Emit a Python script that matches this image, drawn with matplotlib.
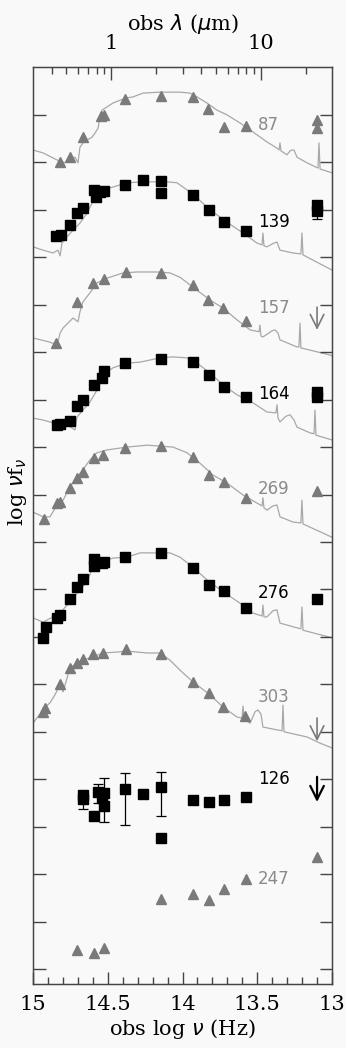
import matplotlib
matplotlib.use("Agg")
import matplotlib.pyplot as plt
import numpy as np

# ---- model SED curves: obs log nu (Hz) vs stacked log nu f_nu ----
sed87_x = [15.000, 14.933, 14.839, 14.786, 14.753, 14.719, 14.699, 14.686, 14.666, 14.639,
           14.605, 14.585, 14.565, 14.552, 14.538, 14.505, 14.465, 14.418, 14.371, 14.331,
           14.264, 14.150, 14.017, 13.950, 13.903, 13.836, 13.769, 13.702, 13.615, 13.528,
           13.435, 13.368, 13.354, 13.348, 13.341, 13.301, 13.281, 13.268, 13.254, 13.234,
           13.167, 13.094, 13.087, 13.080, 13.000]
sed87_y = [17.26, 17.20, 17.05, 16.99, 17.05, 17.11, 16.99, 17.32, 17.41, 17.47,
           17.53, 17.62, 17.72, 17.96, 18.10, 18.17, 18.25, 18.31, 18.36, 18.38,
           18.46, 18.48, 18.48, 18.46, 18.38, 18.25, 18.10, 18.00, 17.83, 17.64,
           17.43, 17.30, 17.26, 17.41, 17.24, 17.16, 17.24, 17.26, 17.26, 17.11,
           16.99, 16.88, 17.41, 16.86, 16.78]

sed139_x = [15.000, 14.933, 14.866, 14.833, 14.819, 14.806, 14.773, 14.732, 14.686, 14.639,
            14.605, 14.572, 14.532, 14.465, 14.371, 14.264, 14.104, 14.037, 13.970, 13.903,
            13.816, 13.702, 13.595, 13.502, 13.468, 13.462, 13.455, 13.435, 13.388, 13.368,
            13.348, 13.261, 13.208, 13.201, 13.194, 13.000]
sed139_y = [15.22, 15.15, 15.09, 15.15, 15.03, 15.30, 15.43, 15.57, 15.72, 15.93,
            16.14, 16.35, 16.42, 16.48, 16.57, 16.59, 16.59, 16.57, 16.42, 16.25,
            16.00, 15.74, 15.51, 15.30, 15.26, 15.51, 15.24, 15.22, 15.30, 15.32,
            15.15, 15.09, 15.07, 15.51, 15.05, 14.73]

sed157_x = [15.000, 14.886, 14.839, 14.819, 14.799, 14.732, 14.699, 14.686, 14.666, 14.619,
            14.572, 14.505, 14.398, 14.304, 14.171, 14.084, 14.017, 13.930, 13.816, 13.729,
            13.635, 13.548, 13.488, 13.482, 13.475, 13.462, 13.401, 13.381, 13.361, 13.348,
            13.234, 13.221, 13.214, 13.208, 13.013, 13.000]
sed157_y = [13.30, 13.21, 13.15, 13.40, 13.51, 13.72, 13.64, 13.85, 14.06, 14.25,
            14.46, 14.56, 14.67, 14.69, 14.69, 14.67, 14.58, 14.37, 14.10, 13.93,
            13.68, 13.47, 13.43, 13.57, 13.34, 13.32, 13.45, 13.47, 13.40, 13.26,
            13.11, 13.11, 13.61, 13.09, 12.94, 12.92]

sed164_x = [15.000, 14.933, 14.866, 14.773, 14.719, 14.706, 14.666, 14.619, 14.572, 14.552,
            14.505, 14.465, 14.371, 14.284, 14.150, 14.064, 13.970, 13.903, 13.816, 13.729,
            13.635, 13.528, 13.435, 13.375, 13.368, 13.361, 13.348, 13.308, 13.281, 13.254,
            13.234, 13.147, 13.120, 13.114, 13.107, 13.000]
sed164_y = [11.61, 11.57, 11.51, 11.47, 11.36, 11.63, 11.78, 11.95, 12.20, 12.41,
            12.58, 12.67, 12.77, 12.79, 12.88, 12.90, 12.88, 12.77, 12.56, 12.31,
            12.10, 11.93, 11.74, 11.72, 11.89, 11.61, 11.53, 11.65, 11.68, 11.57,
            11.42, 11.30, 11.28, 11.78, 11.25, 11.15]

sed269_x = [15.000, 14.933, 14.886, 14.839, 14.799, 14.753, 14.706, 14.666, 14.619, 14.572,
            14.505, 14.371, 14.237, 14.064, 13.970, 13.883, 13.796, 13.702, 13.595, 13.502,
            13.468, 13.462, 13.455, 13.435, 13.395, 13.368, 13.348, 13.261, 13.208, 13.201,
            13.194, 13.000]
sed269_y = [9.63, 9.53, 9.53, 9.78, 9.88, 10.16, 10.37, 10.52, 10.73, 10.88,
            10.94, 11.00, 11.04, 11.00, 10.88, 10.66, 10.41, 10.24, 9.99, 9.82,
            9.76, 9.93, 9.72, 9.67, 9.76, 9.78, 9.53, 9.42, 9.40, 9.88,
            9.38, 9.10]

sed276_x = [15.000, 14.933, 14.819, 14.753, 14.686, 14.639, 14.599, 14.552, 14.465, 14.371,
            14.284, 14.150, 14.084, 14.017, 13.930, 13.836, 13.729, 13.615, 13.528, 13.468,
            13.462, 13.455, 13.435, 13.395, 13.368, 13.348, 13.234, 13.208, 13.201, 13.194,
            13.000]
sed276_y = [7.40, 7.31, 7.50, 7.74, 7.99, 8.16, 8.47, 8.58, 8.66, 8.68,
            8.77, 8.77, 8.77, 8.68, 8.47, 8.20, 7.95, 7.71, 7.50, 7.44,
            7.67, 7.42, 7.42, 7.55, 7.57, 7.29, 7.19, 7.17, 7.63, 7.14,
            6.98]

sed303_x = [15.000, 14.920, 14.886, 14.853, 14.819, 14.799, 14.753, 14.706, 14.666, 14.599,
            14.532, 14.438, 14.371, 14.237, 14.150, 14.084, 14.017, 13.930, 13.816, 13.729,
            13.635, 13.602, 13.595, 13.588, 13.548, 13.515, 13.495, 13.475, 13.462, 13.368,
            13.334, 13.328, 13.321, 13.167, 13.080, 13.000]
sed303_y = [5.18, 5.52, 5.61, 5.78, 5.99, 5.84, 6.34, 6.45, 6.51, 6.58,
            6.66, 6.68, 6.70, 6.66, 6.66, 6.51, 6.30, 6.05, 5.78, 5.52,
            5.31, 5.29, 5.54, 5.27, 5.18, 5.42, 5.46, 5.37, 5.10, 5.04,
            5.02, 5.56, 5.00, 4.89, 4.76, 4.66]

# ---- photometry ----
phot87_x = [14.819, 14.753, 14.666, 14.545, 14.525, 14.385, 14.144, 13.930, 13.829, 13.722, 13.575, 13.100, 13.100]
phot87_y = [17.01, 17.11, 17.53, 17.98, 18.00, 18.34, 18.40, 18.38, 18.13, 17.75, 17.77, 17.89, 17.72]

phot139_x = [14.846, 14.813, 14.753, 14.706, 14.666, 14.592, 14.579, 14.552, 14.525, 14.385,
             14.264, 14.144, 14.144, 13.930, 13.823, 13.722, 13.575, 13.100, 13.100]
phot139_y = [15.45, 15.47, 15.68, 15.93, 16.04, 16.42, 16.27, 16.38, 16.40, 16.52,
             16.63, 16.61, 16.35, 16.31, 16.00, 15.74, 15.55, 16.10, 15.98]

phot157_x = [14.846, 14.706, 14.599, 14.525, 14.378, 14.144, 13.930, 13.829, 13.729, 13.575]
phot157_y = [13.19, 14.06, 14.46, 14.54, 14.69, 14.67, 14.42, 14.10, 13.93, 13.66]

phot164_x = [14.839, 14.819, 14.753, 14.706, 14.666, 14.592, 14.538, 14.525, 14.385, 14.144,
             13.930, 13.823, 13.722, 13.575, 13.100, 13.100]
phot164_y = [11.47, 11.49, 11.55, 11.87, 11.99, 12.31, 12.46, 12.60, 12.77, 12.86,
             12.79, 12.52, 12.27, 12.06, 12.16, 12.06]

phot269_x = [14.926, 14.839, 14.819, 14.753, 14.706, 14.666, 14.592, 14.532, 14.385, 14.144,
             13.930, 13.823, 13.722, 13.575, 13.100]
phot269_y = [9.48, 9.82, 9.84, 10.14, 10.35, 10.47, 10.77, 10.83, 10.98, 11.02,
             10.79, 10.41, 10.26, 9.93, 10.07]

phot276_x = [14.933, 14.913, 14.839, 14.819, 14.753, 14.706, 14.666, 14.592, 14.592, 14.538,
             14.525, 14.385, 14.144, 13.930, 13.823, 13.722, 13.575, 13.100]
phot276_y = [6.98, 7.21, 7.40, 7.46, 7.80, 8.05, 8.22, 8.64, 8.49, 8.56,
             8.58, 8.68, 8.77, 8.45, 8.09, 7.97, 7.61, 7.80]

phot303_x = [14.933, 14.920, 14.819, 14.753, 14.706, 14.666, 14.599, 14.532, 14.378, 14.144,
             13.930, 13.823, 13.729, 13.582]
phot303_y = [5.42, 5.50, 6.01, 6.34, 6.45, 6.53, 6.64, 6.66, 6.74, 6.64,
             6.05, 5.82, 5.52, 5.33]

phot126_x = [14.666, 14.666, 14.592, 14.565, 14.538, 14.525, 14.525, 14.385, 14.264, 14.144,
             14.144, 13.930, 13.823, 13.722, 13.575]
phot126_y = [3.67, 3.58, 3.22, 3.73, 3.60, 3.71, 3.44, 3.79, 3.69, 3.84,
             2.76, 3.56, 3.52, 3.56, 3.63]

phot247_x = [14.706, 14.592, 14.525, 14.144, 13.930, 13.823, 13.722, 13.575, 13.100]
phot247_y = [0.40, 0.34, 0.44, 1.48, 1.58, 1.45, 1.69, 1.90, 2.36]

# error bars
err_x = [14.666, 14.565, 14.525, 14.385, 14.144, 13.100]
err_y = [3.58, 3.73, 3.71, 3.79, 3.84, 15.98]
err_lo = [0.21, 0.23, 0.61, 0.76, 0.61, 0.17]
err_hi = [0.10, 0.17, 0.32, 0.34, 0.32, 0.05]

# upper limits (x, top, tip)
ul_x = [13.10, 13.10, 13.10]
ul_top = [13.95, 5.29, 4.05]
ul_tip = [13.47, 4.80, 3.52]
ul_black = [False, False, True]

# labels
lab_text = ["87", "139", "157", "164", "269", "276", "303", "126", "247"]
lab_y = [17.79, 15.74, 13.93, 12.12, 10.12, 7.92, 5.73, 4.00, 1.90]
lab_black = [False, True, False, True, False, True, False, True, False]

GRAY_LINE = "#a8a8a8"
GRAY_MARK = "#7a7a7a"
GRAY_TEXT = "#8a8a8a"
BG = "#f9f9f9"
SERIF = "DejaVu Serif"

fig = plt.figure(figsize=(3.46, 10.48), dpi=100)
fig.patch.set_facecolor(BG)
ax = fig.add_axes([33 / 346, 64 / 1048, 299 / 346, 917 / 1048])
ax.set_facecolor(BG)

curves = [(sed87_x, sed87_y), (sed139_x, sed139_y), (sed157_x, sed157_y), (sed164_x, sed164_y),
          (sed269_x, sed269_y), (sed276_x, sed276_y), (sed303_x, sed303_y)]
for cx, cy in curves:
    ax.plot(cx, cy, color=GRAY_LINE, lw=0.9, zorder=1)

tri = [(phot87_x, phot87_y), (phot157_x, phot157_y), (phot269_x, phot269_y),
       (phot303_x, phot303_y), (phot247_x, phot247_y)]
for px, py in tri:
    ax.plot(px, py, ls="none", marker="^", ms=7.5, color=GRAY_MARK, mec=GRAY_MARK, zorder=3)

sq = [(phot139_x, phot139_y), (phot164_x, phot164_y), (phot276_x, phot276_y), (phot126_x, phot126_y)]
for px, py in sq:
    ax.plot(px, py, ls="none", marker="s", ms=7, color="black", zorder=3)

ax.errorbar(err_x, err_y, yerr=[err_lo, err_hi], fmt="none", ecolor="black",
            elinewidth=0.9, capsize=3.5, capthick=0.9, zorder=2)

for x, t, b, blk in zip(ul_x, ul_top, ul_tip, ul_black):
    col = "black" if blk else GRAY_MARK
    ax.annotate("", xy=(x, b), xytext=(x, t),
                arrowprops=dict(arrowstyle="->,head_length=0.7,head_width=0.35",
                                color=col, lw=1.6 if blk else 1.2, shrinkA=0, shrinkB=0,
                                mutation_scale=14))

for s, y, blk in zip(lab_text, lab_y, lab_black):
    ax.text(13.495, y, s, ha="left", va="center", fontsize=12,
            color="black" if blk else GRAY_TEXT, zorder=4)

ax.set_xlim(15, 13)
ax.set_ylim(-0.316, 19.01)
ax.set_xticks([15, 14.5, 14, 13.5, 13])
ax.set_xticklabels(["15", "14.5", "14", "13.5", "13"])
ax.set_xticks(np.arange(13, 15.01, 0.1), minor=True)
ax.set_yticks(range(0, 19))
ax.set_yticklabels([])

for sp in ax.spines.values():
    sp.set_color("#444444")
    sp.set_linewidth(1.0)

ax.tick_params(axis="both", which="major", direction="in", length=9, width=1, color="#444444",
               top=False, right=True, labelsize=15, pad=8)
ax.tick_params(axis="x", which="minor", direction="in", length=5, width=1, color="#444444", top=False)
for lb in ax.get_xticklabels():
    lb.set_family(SERIF)

ax.set_xlabel(r"obs log $\nu$ (Hz)", fontsize=15, family=SERIF, labelpad=2)
ax.set_ylabel(r"log $\nu$f$_\nu$", fontsize=15, family=SERIF)
ax.yaxis.set_label_coords(-0.015, 0.537)

# top axis in observed wavelength (micron)
ax2 = ax.twiny()
ax2.set_xlim(15, 13)
lam_major = [1, 10]
lam_minor = [0.4, 0.5, 0.6, 0.7, 0.8, 0.9, 2, 3, 4, 5, 6, 7, 8, 9, 20]
ax2.set_xticks([np.log10(2.998e14 / l) for l in lam_major])
ax2.set_xticklabels([str(l) for l in lam_major])
ax2.set_xticks([np.log10(2.998e14 / l) for l in lam_minor], minor=True)
ax2.tick_params(axis="x", which="major", direction="in", length=9, width=1, color="#444444",
                labelsize=15, pad=10)
ax2.tick_params(axis="x", which="minor", direction="in", length=5, width=1, color="#444444")
for lb in ax2.get_xticklabels():
    lb.set_family(SERIF)
ax2.set_xlabel(r"obs $\lambda$ ($\mu$m)", fontsize=15, family=SERIF, labelpad=3)
for sp in ax2.spines.values():
    sp.set_color("#444444")

fig.savefig("out.png", dpi=100, facecolor=BG)
